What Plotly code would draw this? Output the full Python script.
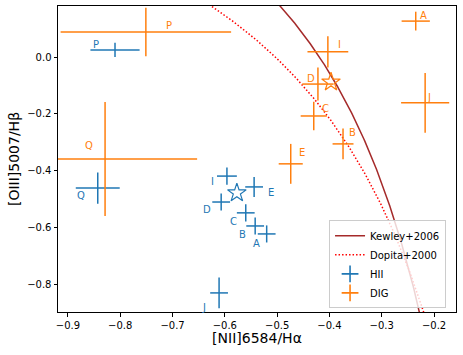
import numpy as np
import plotly.graph_objects as go

# HII regions
hii_names = ["P", "Q", "I", "E", "D", "C", "B", "A", "J"]
hii_x = [-0.810, -0.843, -0.596, -0.544, -0.607, -0.560, -0.542, -0.520, -0.611]
hii_y = [0.025, -0.460, -0.418, -0.456, -0.509, -0.547, -0.593, -0.621, -0.828]
hii_xerr = [0.047, 0.042, 0.019, 0.017, 0.017, 0.017, 0.017, 0.017, 0.017]
hii_yerr = [0.025, 0.055, 0.030, 0.035, 0.030, 0.030, 0.030, 0.030, 0.054]
hii_star = (-0.577, -0.477)

# DIG
dig_names = ["P", "Q", "A", "I", "D", "C", "B", "J", "E"]
dig_x = [-0.751, -0.829, -0.235, -0.403, -0.422, -0.430, -0.374, -0.217, -0.474]
dig_y = [0.088, -0.358, 0.126, 0.018, -0.095, -0.207, -0.305, -0.161, -0.375]
dig_xerr = [0.163, 0.176, 0.027, 0.039, 0.030, 0.025, 0.020, 0.046, 0.023]
dig_yerr = [0.085, 0.200, 0.033, 0.055, 0.058, 0.050, 0.054, 0.105, 0.070]
dig_star = (-0.397, -0.088)

# label offsets (data units) for the point names
hii_lab_dx = [-0.037, -0.032, -0.027, 0.033, -0.027, -0.024, -0.025, -0.020, -0.029]
hii_lab_dy = [0.018, -0.025, -0.018, -0.018, -0.025, -0.030, -0.031, -0.033, -0.050]
dig_lab_dx = [0.045, -0.031, 0.014, 0.022, -0.014, 0.022, 0.019, 0.008, 0.021]
dig_lab_dy = [0.024, 0.047, 0.021, 0.025, 0.021, 0.025, 0.040, 0.020, 0.039]

# demarcation curves: y = a / (x - b) + c
kew_a, kew_b, kew_c = 0.61, 0.05, 1.30
dop_a, dop_b, dop_c = 0.70, 0.13, 1.105

blue = "#1f77b4"
orange = "#ff7f0e"

fig = go.Figure()

xk = np.linspace(-0.5, -0.22, 200)
fig.add_trace(go.Scatter(x=xk, y=kew_a / (xk - kew_b) + kew_c, mode="lines",
                         line=dict(color="#a52a2a", width=1.5), name="Kewley+2006"))
xd = np.linspace(-0.63, -0.21, 200)
fig.add_trace(go.Scatter(x=xd, y=dop_a / (xd - dop_b) + dop_c, mode="lines",
                         line=dict(color="red", width=1.5, dash="1.5px,2px"), name="Dopita+2000"))

for xs, ys, xe, ye, col in [(hii_x, hii_y, hii_xerr, hii_yerr, blue),
                            (dig_x, dig_y, dig_xerr, dig_yerr, orange)]:
    fig.add_trace(go.Scatter(
        x=xs, y=ys, mode="markers", marker=dict(size=1, color=col, opacity=0),
        error_x=dict(type="data", array=xe, color=col, thickness=1.5, width=0),
        error_y=dict(type="data", array=ye, color=col, thickness=1.5, width=0),
        showlegend=False, hoverinfo="skip"))

for (sx, sy), col in [(hii_star, blue), (dig_star, orange)]:
    fig.add_trace(go.Scatter(x=[sx], y=[sy], mode="markers", showlegend=False,
                             marker=dict(symbol="star-open", size=14, color=col,
                                         line=dict(color=col, width=1.2))))

for nm, col in [("HII", blue), ("DIG", orange)]:
    fig.add_trace(go.Scatter(x=[None], y=[None], mode="markers", name=nm,
                             marker=dict(symbol="cross-thin-open", size=12, color=col,
                                         line=dict(color=col, width=1.6))))

for names, xs, ys, dxs, dys, col in [
        (hii_names, hii_x, hii_y, hii_lab_dx, hii_lab_dy, blue),
        (dig_names, dig_x, dig_y, dig_lab_dx, dig_lab_dy, orange)]:
    for n, x, y, dx, dy in zip(names, xs, ys, dxs, dys):
        fig.add_annotation(x=x + dx, y=y + dy, text=n, showarrow=False,
                           font=dict(size=10, color=col, family="DejaVu Sans"))

axis_common = dict(showline=True, linecolor="black", linewidth=1, mirror=True,
                   ticks="outside", ticklen=3.5, tickcolor="black", showgrid=False,
                   zeroline=False, automargin=False, tickfont=dict(size=10, color="black"))

fig.update_layout(
    width=463, height=355,
    margin=dict(l=58, r=7, t=6, b=43),
    plot_bgcolor="white", paper_bgcolor="white",
    font=dict(family="DejaVu Sans", color="black"),
    xaxis=dict(range=[-0.919, -0.158], dtick=0.1, tickformat=".1f",
               title=dict(text="[NII]6584/Hα", font=dict(size=14), standoff=2),
               **axis_common),
    yaxis=dict(range=[-0.895, 0.179], dtick=0.2, tickformat=".1f",
               title=dict(text="[OIII]5007/Hβ", font=dict(size=14), standoff=4),
               **axis_common),
    legend=dict(x=0.975, y=0.012, xanchor="right", yanchor="bottom",
                bgcolor="rgba(255,255,255,0.8)", bordercolor="#cccccc", borderwidth=1,
                font=dict(size=10), itemwidth=30, tracegroupgap=0),
)

fig.write_html("out.html", config={"displayModeBar": False},
               post_script="document.body.style.margin='0';")
